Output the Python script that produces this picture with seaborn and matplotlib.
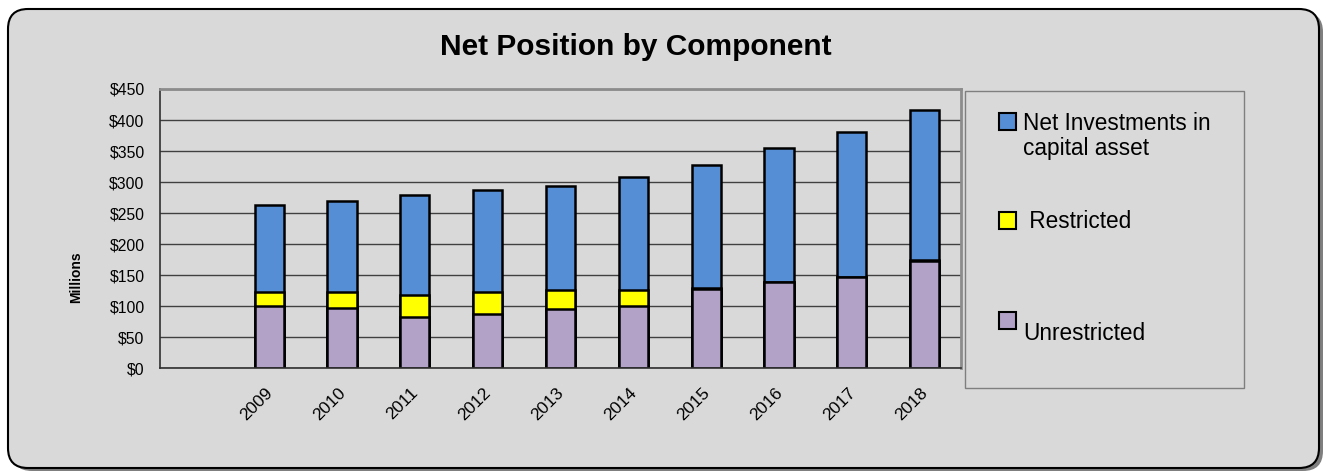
import matplotlib
matplotlib.use("Agg")
import matplotlib.pyplot as plt
import matplotlib.transforms as mtransforms
from matplotlib.patches import FancyBboxPatch, Rectangle
import seaborn as sns
import pandas as pd

# ---- data (millions of dollars) ----
years = ["2009", "2010", "2011", "2012", "2013", "2014", "2015", "2016", "2017", "2018"]
unrestricted = [100.5, 96, 82, 87.5, 95, 100.5, 128, 138.5, 146, 172]
restricted = [22, 27, 36, 35.5, 31, 26, 1, 1, 1, 2.7]
net_investment = [140.5, 147, 160.5, 163.5, 167.5, 182, 198, 216, 233, 242]
series_names = ["Net Investments in\ncapital asset", " Restricted", "Unrestricted"]
y_ticks = [0, 50, 100, 150, 200, 250, 300, 350, 400, 450]

blue = "#558ED5"
yellow = "#FFFF00"
purple = "#B3A2C7"
bg = "#D9D9D9"

df = pd.DataFrame({"year": years, "unrestricted": unrestricted,
                   "restricted": restricted, "net": net_investment})
df["lvl2"] = df["unrestricted"] + df["restricted"]
df["total"] = df["lvl2"] + df["net"]
order = [""] + years

sns.set_style("white")
plt.rcParams["font.family"] = ["Liberation Sans", "DejaVu Sans"]
plt.rcParams.update({"text.color": "black", "axes.labelcolor": "black",
                     "xtick.color": "black", "ytick.color": "black"})

W, H = 1327, 473
fig = plt.figure(figsize=(W / 100, H / 100), dpi=100)
fig.patch.set_facecolor("white")

# outer rounded frame with shadow
px = fig.dpi_scale_trans
shadow = FancyBboxPatch((12 / 100, 2 / 100), (1311) / 100, (459) / 100,
                        boxstyle="round,pad=0,rounding_size=0.2",
                        transform=px, facecolor="#7f7f7f", edgecolor="none", zorder=0)
frame = FancyBboxPatch((8 / 100, 5 / 100), (1311) / 100, (459) / 100,
                       boxstyle="round,pad=0,rounding_size=0.2",
                       transform=px, facecolor=bg, edgecolor="black", linewidth=1.5, zorder=1)
fig.add_artist(shadow)
fig.add_artist(frame)

# plot area
L, R, T, B = 160, 961, 89, 368
ax = fig.add_axes([L / W, (H - B) / H, (R - L) / W, (B - T) / H])
ax.set_facecolor(bg)
ax.set_zorder(2)

common = dict(x="year", order=order, width=0.4, edgecolor="black",
              linewidth=1.8, errorbar=None, ax=ax, saturation=1)
sns.barplot(data=df, y="total", color=blue, **common)
sns.barplot(data=df, y="lvl2", color=yellow, **common)
sns.barplot(data=df, y="unrestricted", color=purple, **common)

ax.set_xlim(-0.5, len(order) - 0.5)
ax.set_ylim(0, 450)
ax.set_yticks(y_ticks)
ax.set_yticklabels([f"${v}" for v in y_ticks], fontsize=11.3)
ax.set_axisbelow(True)
ax.yaxis.grid(True, color="#404040", linewidth=1)
ax.xaxis.grid(False)
ax.set_xlabel("")
ax.set_ylabel("")

ax.set_xticks(range(len(order)))
ax.set_xticklabels(order, rotation=45, ha="right", va="center",
                   rotation_mode="anchor", fontsize=12.5)
ax.set_xticks([i - 0.5 for i in range(len(order) + 1)], minor=True)
ax.tick_params(axis="x", which="major", length=0, pad=16)
ax.tick_params(axis="x", which="minor", length=5, width=1, color="#404040", direction="out")
ax.tick_params(axis="y", length=5, width=1, color="#404040", direction="out", pad=6)
off = mtransforms.ScaledTranslation(1 / 100, 0, fig.dpi_scale_trans)
for lab in ax.get_xticklabels():
    lab.set_transform(lab.get_transform() + off)

for s in ["left", "bottom"]:
    ax.spines[s].set_color("#303030")
    ax.spines[s].set_linewidth(1.2)
for s in ["top", "right"]:
    ax.spines[s].set_color("#8c8c8c")
    ax.spines[s].set_linewidth(2)

# title and axis label
fig.text(636 / W, (H - 47) / H, "Net Position by Component", ha="center", va="center",
         fontsize=21.5, fontweight="bold", zorder=5)
fig.text(76 / W, (H - 277) / H, "Millions", rotation=90, ha="center", va="center",
         fontsize=10, fontweight="bold", zorder=5)

# legend (drawn in pixel space, y measured from top)
def pxrect(x0, y0, x1, y1, **kw):
    r = Rectangle((x0 / 100, (H - y1) / 100), (x1 - x0) / 100, (y1 - y0) / 100,
                  transform=px, **kw)
    fig.add_artist(r)

pxrect(965, 91, 1244, 388, facecolor=bg, edgecolor="#7f7f7f", linewidth=1, zorder=3)
legend_items = [
    (blue, 113, series_names[0], 1023, 130),
    (yellow, 212, series_names[1], 1023, 228),
    (purple, 312, series_names[2], 1023, 340),
]
for color, ysq, name, xt, ybase in legend_items:
    pxrect(999, ysq, 1016, ysq + 17, facecolor=color, edgecolor="black", linewidth=1.5, zorder=4)
    lines = name.split("\n")
    for k, line in enumerate(lines):
        fig.text(xt / W, (H - (ybase + 25 * k)) / H, line, ha="left", va="baseline",
                 fontsize=16.3, zorder=5)

fig.savefig("out.png", dpi=100, facecolor="white")
